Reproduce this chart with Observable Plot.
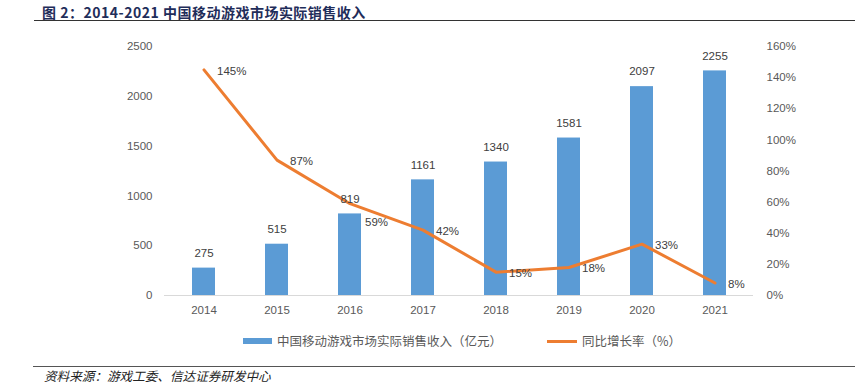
<!DOCTYPE html>
<html><head><meta charset="utf-8">
<script src="https://cdn.jsdelivr.net/npm/d3@7"></script>
<script src="https://cdn.jsdelivr.net/npm/@observablehq/plot@0.6"></script>
<style>
body{margin:0;width:855px;height:385px;position:relative;background:#fff;font-family:"Noto Sans CJK SC","Liberation Sans",sans-serif;overflow:hidden}
#title{position:absolute;left:34px;right:0;top:0;height:20px;border-bottom:1.5px solid #333;font-weight:bold;font-size:14px;letter-spacing:0.5px;color:#1f2d5a;padding-left:8px;line-height:24px;white-space:nowrap}
#chart{position:absolute;left:0;top:25px}
.leg{position:absolute;top:332px;font-size:12.5px;color:#595959;line-height:18px;white-space:nowrap}
.sw{position:absolute}
#foot{position:absolute;left:33px;right:0;top:366px;border-top:1px solid #555;font-size:12.6px;font-style:italic;color:#222;padding-left:11px;line-height:17px;white-space:nowrap}
</style></head><body>
<div id="title">图 2：2014-2021 中国移动游戏市场实际销售收入</div>
<div id="chart"></div>
<div class="sw" style="left:243px;top:338px;width:29px;height:6px;background:#5B9BD5"></div>
<div class="leg" style="left:277px">中国移动游戏市场实际销售收入（亿元）</div>
<div class="sw" style="left:547px;top:340px;width:30px;height:3px;background:#ED7D31"></div>
<div class="leg" style="left:582px">同比增长率（%）</div>
<div id="foot">资料来源：游戏工委、信达证券研发中心</div>
<script>
const years = ["2014","2015","2016","2017","2018","2019","2020","2021"];
const revenue = [275,515,819,1161,1340,1581,2097,2255];
const growth = [145,87,59,42,15,18,33,8];
const leftTicks = [0,500,1000,1500,2000,2500];
const rightTicks = [0,20,40,60,80,100,120,140,160];
const yMax = 2500, pMax = 160;
const toY = p => p * yMax / pMax;
const data = years.map((y,i)=>({year:y, revenue:revenue[i], growth:growth[i], g:toY(growth[i])}));
const txt = "#404040";
const chart = Plot.plot({
  width:855, height:300,
  marginLeft:164, marginRight:102, marginTop:21, marginBottom:30,
  x:{domain:years, padding:0, axis:null},
  y:{domain:[0,yMax], axis:null},
  style:{fontFamily:"'Liberation Sans',Arial,sans-serif", fontSize:"11.5px", color:"#595959", background:"#fff"},
  marks:[
    Plot.barY(data,{x:"year", y:"revenue", fill:"#5B9BD5", insetLeft:25, insetRight:25}),
    Plot.ruleY([0],{stroke:"#d9d9d9", strokeWidth:1}),
    Plot.axisX({tickSize:0, tickPadding:10, label:null, fill:"#595959"}),
    Plot.axisY({anchor:"left", ticks:leftTicks, tickFormat:d=>String(d), tickSize:0, tickPadding:12, label:null, fill:"#595959"}),
    Plot.axisY({anchor:"right", ticks:rightTicks.map(toY), tickFormat:d=>Math.round(d*pMax/yMax)+"%", tickSize:0, tickPadding:13, label:null, fill:"#595959"}),
    Plot.line(data,{x:"year", y:"g", stroke:"#ED7D31", strokeWidth:3}),
    Plot.text(data,{x:"year", y:"revenue", text:d=>String(d.revenue), dy:-15, fill:txt}),
    Plot.text(data.filter(d=>d.year!=="2016"),{x:"year", y:"g", text:d=>d.growth+"%", textAnchor:"start", dx:13, dy:1, fill:txt}),
    Plot.text(data.filter(d=>d.year==="2016"),{x:"year", y:"g", text:d=>d.growth+"%", textAnchor:"start", dx:15, dy:19, fill:txt})
  ]
});
document.getElementById("chart").append(chart);
</script>
</body></html>
